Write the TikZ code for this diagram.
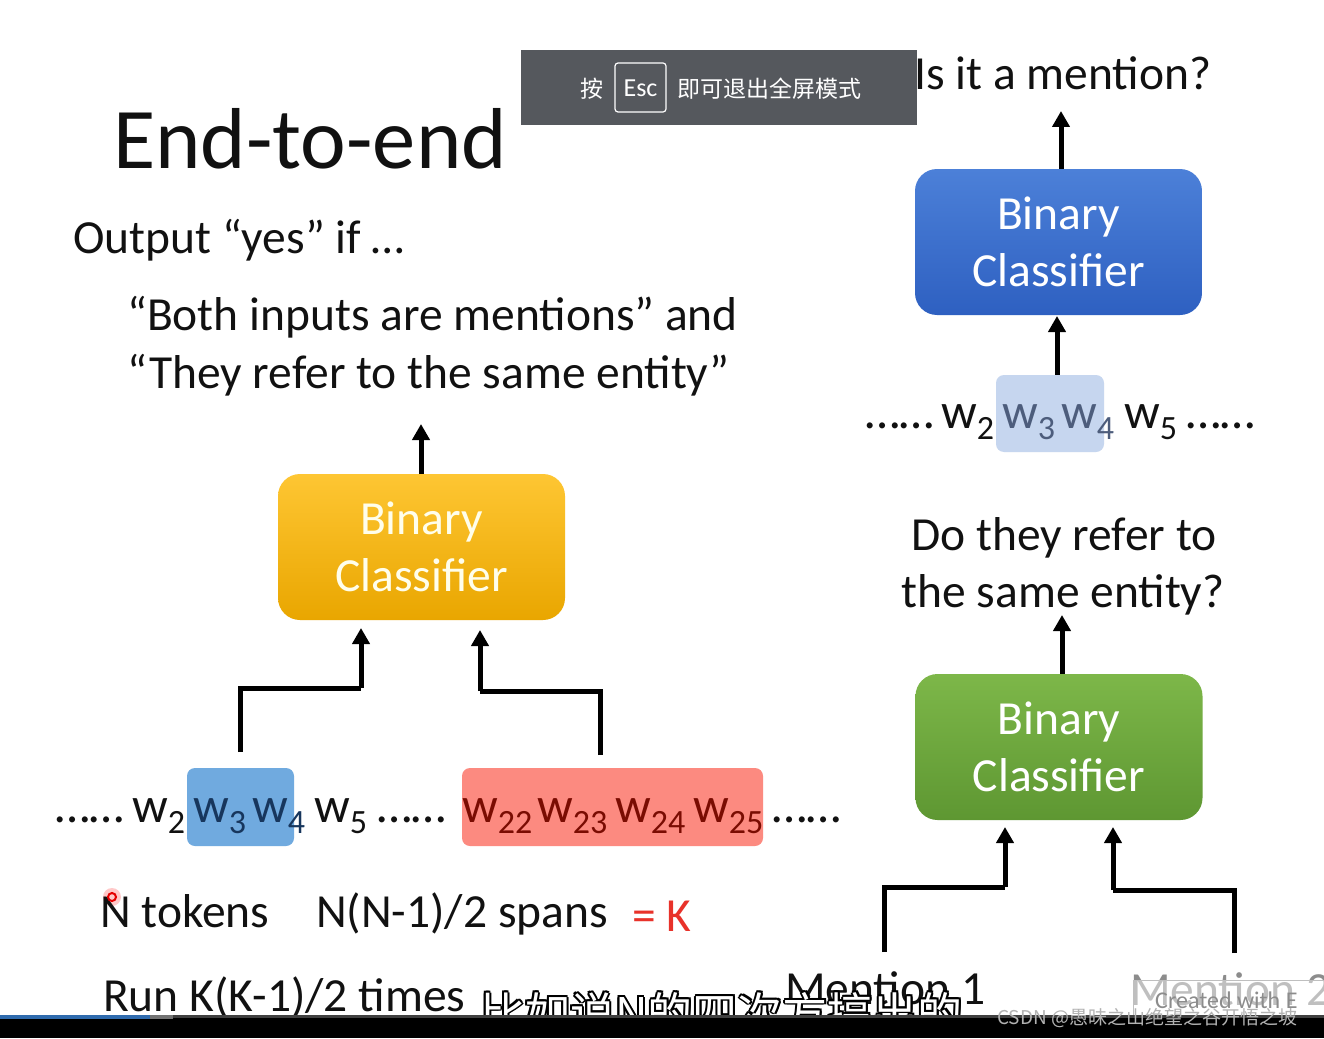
\documentclass[tikz,border=0pt]{standalone}
\usepackage{fontspec}
\setmainfont{Carlito}
\newfontfamily\cjk{Noto Sans CJK SC}
\usetikzlibrary{arrows.meta}
\definecolor{ink}{HTML}{111111}
\definecolor{ovgray}{HTML}{55585D}
\definecolor{ytop}{HTML}{FEC633}
\definecolor{ybot}{HTML}{E9A600}
\definecolor{btop}{HTML}{4C80D8}
\definecolor{bbot}{HTML}{2E60C1}
\definecolor{gtop}{HTML}{7DB749}
\definecolor{gbot}{HTML}{5E9732}
\definecolor{hlblue}{HTML}{70AADF}
\definecolor{hlred}{HTML}{FC8A80}
\definecolor{hllight}{HTML}{C6D6EF}
\definecolor{navy}{HTML}{17365D}
\definecolor{dred}{HTML}{7A0C02}
\definecolor{grayblue}{HTML}{4D5D7C}
\definecolor{kred}{HTML}{E8322A}
\definecolor{progblue}{HTML}{2F6BAE}
\newcommand\fs[2]{\fontsize{#1}{#2}\selectfont}
\newcommand\wt[1]{w\raisebox{-0.22em}{\fontsize{34}{34}\selectfont #1}}
\begin{document}
\begin{tikzpicture}[x=1pt,y=-1pt,
  conn/.style={line width=5pt,-{Triangle[width=17pt,length=16pt]}},
  wire/.style={line width=5pt},
  txt/.style={inner sep=0pt,text=ink,font=\fs{47.5}{57}},
  tok/.style={inner sep=0pt,anchor=base west,text=ink,font=\fs{50}{60}},
  clsbox/.style={rounded corners=22pt,minimum width=287pt,minimum height=146pt,
     inner sep=0pt,align=center,font=\fs{47.5}{57},text=white},
  hl/.style={rounded corners=8pt,inner sep=0pt}]
\useasboundingbox (0,0) rectangle (1324,1038);
\fill[white] (0,0) rectangle (1324,1038);

% ---------------- left side texts
\node[txt,anchor=base west,font=\fs{86.5}{100}] (title) at (113,168) {End-to-end};
\node[txt,anchor=base west] (out) at (73,253) {Output “yes” if …};
\node[txt,anchor=base west] (both) at (127,330) {“Both inputs are mentions” and};
\node[txt,anchor=base west] (they) at (127,388) {“They refer to the same entity”};

% yellow classifier
\node[clsbox,top color=ytop,bottom color=ybot,text=white!92!yellow] (ybox) at (421.5,547) {Binary\\Classifier};
\coordinate (yout) at (421,424);
\draw[conn] (ybox.north -| yout) -- (yout);

% left tokens
\node[hl,fill=hlblue,minimum width=107pt,minimum height=78pt] (lhb) at (240.5,807) {};
\node[hl,fill=hlred,minimum width=301pt,minimum height=78pt] (lhr) at (612.5,807) {};
\node[tok] (l0) at (55,822) {……};
\node[tok] (l2) at (132,822) {\wt{2}};
\node[tok,text=navy] (l3) at (193,822) {\wt{3}};
\node[tok,text=navy] (l4) at (252,822) {\wt{4}};
\node[tok] (l5) at (314,822) {\wt{5}};
\node[tok] (l6) at (377,822) {……};
\node[tok,text=dred] (l22) at (462,822) {\wt{22}};
\node[tok,text=dred] (l23) at (537,822) {\wt{23}};
\node[tok,text=dred] (l24) at (615,822) {\wt{24}};
\node[tok,text=dred] (l25) at (693,822) {\wt{25}};
\node[tok] (l7) at (772,822) {……};

% elbow connectors into yellow box
\coordinate (ya) at (240,752);
\coordinate (yak) at (361,688);
\coordinate (yain) at (361,628);
\draw[wire] (ya) |- (yak);
\draw[conn] (yak) -- (yain);
\coordinate (yb) at (600,755);
\coordinate (ybk) at (480,691);
\coordinate (ybin) at (480,630);
\draw[wire] (yb) |- (ybk);
\draw[conn] (ybk) -- (ybin);

% counts
\fill[red!35,opacity=0.6] (112,897) circle (9);
\node[txt,anchor=base west] (ntok) at (100,927) {N tokens};
\draw[red!90!black,line width=2pt] (112,897) circle (4);
\node[txt,anchor=base west] (nspan) at (316,927) {N(N-1)/2 spans};
\node[txt,anchor=base west,text=kred] (eqk) at (632,931) {= K};
\node[txt,anchor=base west] (run) at (103,1011) {Run K(K-1)/2 times};

% ---------------- right side
\node[txt,anchor=base west] (isit) at (914,90) {Is it a mention?};
\node[clsbox,top color=btop,bottom color=bbot] (bbox) at (1058.5,242) {Binary\\Classifier};
\coordinate (bout) at (1061,111);
\draw[conn] (bbox.north -| bout) -- (bout);

\node[hl,fill=hllight,minimum width=108pt,minimum height=77pt] (rhl) at (1050,413.5) {};
\node[tok] (r0) at (865,428) {……};
\node[tok] (r2) at (941,428) {\wt{2}};
\node[tok,text=grayblue] (r3) at (1002,428) {\wt{3}};
\node[tok,text=grayblue] (r4) at (1061,428) {\wt{4}};
\node[tok] (r5) at (1124,428) {\wt{5}};
\node[tok] (r6) at (1186,428) {……};
\coordinate (rin) at (1057,316);
\draw[conn] (rhl.north -| rin) -- (rin);

\node[txt,anchor=base] (dothey) at (1064,550) {Do they refer to};
\node[txt,anchor=base] (same) at (1063,607) {the same entity?};
\node[clsbox,top color=gtop,bottom color=gbot] (gbox) at (1059,747) {Binary\\Classifier};
\coordinate (gout) at (1062,615);
\draw[conn] (gbox.north -| gout) -- (gout);

\coordinate (ga) at (884,952);
\coordinate (gak) at (1005,887);
\coordinate (gain) at (1005,827);
\draw[wire] (ga) |- (gak);
\draw[conn] (gak) -- (gain);
\coordinate (gb) at (1234,953);
\coordinate (gbk) at (1113,890);
\coordinate (gbin) at (1113,827);
\draw[wire] (gb) |- (gbk);
\draw[conn] (gbk) -- (gbin);

\node[txt,anchor=base west,font=\fs{47.5}{57}] (m1) at (785,1004) {Mention 1};
\node[txt,anchor=base west,font=\fs{47.5}{57},text=black!45] (m2) at (1130,1005) {Mention 2};
\fill[white,opacity=0.45] (1133,980) rectangle (1324,1016);
\draw[black!25,line width=0.8pt] (1133,1016) -- (1133,980) -- (1324,980);
\node[inner sep=0pt,anchor=base west,text=black!45,font=\fs{24}{28}] (cw) at (1155,1008) {Created with E};

% subtitle with outline
\foreach \dx/\dy in {-1.8/0,1.8/0,0/-1.8,0/1.8,-1.3/-1.3,1.3/1.3,-1.3/1.3,1.3/-1.3}
  \node[inner sep=0pt,anchor=base west,text=black,font=\cjk\fs{45}{50}] at (480+\dx,1030+\dy) {比如说N的四次方搞出的};
\node[inner sep=0pt,anchor=base west,text=white,font=\cjk\fs{45}{50}] (subt) at (480,1030) {比如说N的四次方搞出的};

% bottom bar
\fill[black] (0,1016) rectangle (1324,1038);
\fill[black!75] (173,1015) rectangle (1324,1018);
\fill[progblue] (0,1015) rectangle (150,1019);
\fill[black!55] (150,1015) rectangle (173,1019);
\node[inner sep=0pt,anchor=west,text=black!30,font=\cjk\fs{19}{22}] (wm) at (997,1018) {CSDN @愚昧之山绝望之谷开悟之坡};

% fullscreen overlay
\fill[ovgray] (521,50) rectangle (917,125);
\node[inner sep=0pt,text=white,font=\cjk\fs{23}{26}] (an) at (592,89) {按};
\draw[white,line width=1.2pt,rounded corners=3pt] (615,63) rectangle (666,112);
\node[inner sep=0pt,text=white,font=\fs{26}{28}] (esc) at (640.5,88) {Esc};
\node[inner sep=0pt,anchor=west,text=white,font=\cjk\fs{23}{26}] (quit) at (677,89) {即可退出全屏模式};
\end{tikzpicture}
\end{document}
